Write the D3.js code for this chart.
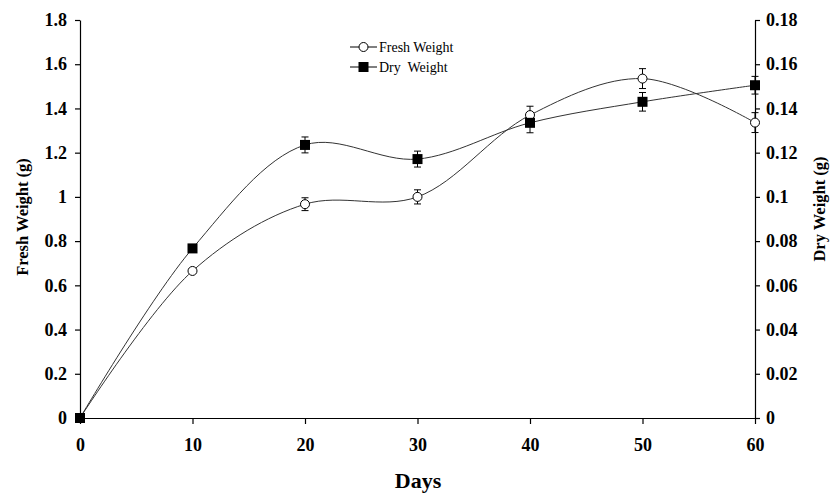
<!DOCTYPE html>
<html>
<head>
<meta charset="utf-8">
<script src="https://cdn.jsdelivr.net/npm/d3@7"></script>
<style>
  body { margin: 0; background: #fff; }
  svg { font-family: "Liberation Serif", "Times New Roman", serif; }
</style>
</head>
<body>
<figure id="chart" style="margin:0"></figure>
<script>
// values
const days = [0, 10, 20, 30, 40, 50, 60];
const freshWeight = [0, 0.665, 0.967, 1.0, 1.37, 1.535, 1.336];
const freshErr = [0, 0, 0.029, 0.032, 0.04, 0.045, 0.045];
const dryWeight = [0, 0.0767, 0.1235, 0.1171, 0.1335, 0.143, 0.1505];
const dryErr = [0, 0, 0.0036, 0.0036, 0.0045, 0.0042, 0.004];
const leftTicks = [0, 0.2, 0.4, 0.6, 0.8, 1, 1.2, 1.4, 1.6, 1.8];
const rightTicks = [0, 0.02, 0.04, 0.06, 0.08, 0.1, 0.12, 0.14, 0.16, 0.18];
const dayTicks = [0, 10, 20, 30, 40, 50, 60];

const width = 830, height = 493;
const margin = { top: 20, right: 75, bottom: 75, left: 80 };

const svg = d3.select("#chart").append("svg")
  .attr("width", width)
  .attr("height", height);

const x = d3.scaleLinear().domain([0, 60]).range([margin.left, width - margin.right]);
const yL = d3.scaleLinear().domain([0, 1.8]).range([height - margin.bottom, margin.top]);
const yR = d3.scaleLinear().domain([0, 0.18]).range([height - margin.bottom, margin.top]);

// axes
const gx = svg.append("g")
  .attr("transform", "translate(0," + (height - margin.bottom) + ")")
  .call(d3.axisBottom(x).tickValues(dayTicks).tickSize(6).tickSizeOuter(0).tickPadding(14));

const gl = svg.append("g")
  .attr("transform", "translate(" + margin.left + ",0)")
  .call(d3.axisLeft(yL).tickValues(leftTicks).tickSize(5).tickSizeOuter(0).tickPadding(8)
    .tickFormat(d => String(+d.toFixed(1))));

const gr = svg.append("g")
  .attr("transform", "translate(" + (width - margin.right) + ",0)")
  .call(d3.axisRight(yR).tickValues(rightTicks).tickSize(5).tickSizeOuter(0).tickPadding(6)
    .tickFormat(d => String(+d.toFixed(2))));

[gx, gl, gr].forEach(g => {
  g.selectAll("text")
    .style("font-family", "'Liberation Serif', serif")
    .style("font-weight", "bold")
    .style("font-size", "18px")
    .attr("fill", "#000");
  g.selectAll("line, path").attr("stroke", "#000").attr("stroke-width", 1.2);
});

// axis titles
svg.append("text")
  .attr("transform", "translate(28,217) rotate(-90)")
  .attr("text-anchor", "middle")
  .style("font-weight", "bold")
  .style("font-size", "16.5px")
  .text("Fresh Weight (g)");

svg.append("text")
  .attr("transform", "translate(825,209) rotate(-90)")
  .attr("text-anchor", "middle")
  .style("font-weight", "bold")
  .style("font-size", "16.5px")
  .text("Dry Weight (g)");

svg.append("text")
  .attr("x", 418)
  .attr("y", 488)
  .attr("text-anchor", "middle")
  .style("font-weight", "bold")
  .style("font-size", "22px")
  .text("Days");

// series
const freshData = days.map((d, i) => ({ d: d, v: freshWeight[i], e: freshErr[i] }));
const dryData = days.map((d, i) => ({ d: d, v: dryWeight[i], e: dryErr[i] }));

const curve = d3.curveCatmullRom.alpha(0.5);

svg.append("path")
  .datum(freshData)
  .attr("fill", "none")
  .attr("stroke", "#333")
  .attr("stroke-width", 1)
  .attr("d", d3.line().curve(curve).x(p => x(p.d)).y(p => yL(p.v)));

svg.append("path")
  .datum(dryData)
  .attr("fill", "none")
  .attr("stroke", "#333")
  .attr("stroke-width", 1)
  .attr("d", d3.line().curve(curve).x(p => x(p.d)).y(p => yR(p.v)));

function errorBars(data, y) {
  const g = svg.append("g").attr("stroke", "#000").attr("stroke-width", 1);
  data.filter(p => p.e > 0).forEach(p => {
    const cx = x(p.d);
    g.append("line").attr("x1", cx).attr("x2", cx).attr("y1", y(p.v - p.e)).attr("y2", y(p.v + p.e));
    g.append("line").attr("x1", cx - 3.5).attr("x2", cx + 3.5).attr("y1", y(p.v - p.e)).attr("y2", y(p.v - p.e));
    g.append("line").attr("x1", cx - 3.5).attr("x2", cx + 3.5).attr("y1", y(p.v + p.e)).attr("y2", y(p.v + p.e));
  });
}
errorBars(freshData, yL);
errorBars(dryData, yR);

svg.append("g")
  .selectAll("circle")
  .data(freshData)
  .enter()
  .append("circle")
  .attr("cx", p => x(p.d))
  .attr("cy", p => yL(p.v))
  .attr("r", 4.5)
  .attr("fill", "#fff")
  .attr("stroke", "#000")
  .attr("stroke-width", 1);

svg.append("g")
  .selectAll("rect")
  .data(dryData)
  .enter()
  .append("rect")
  .attr("x", p => x(p.d) - 5)
  .attr("y", p => yR(p.v) - 5)
  .attr("width", 10)
  .attr("height", 10)
  .attr("fill", "#000");

// legend
const legend = svg.append("g").attr("transform", "translate(350,47)");
legend.append("line").attr("x1", 0).attr("x2", 27).attr("y1", 0).attr("y2", 0).attr("stroke", "#000");
legend.append("circle").attr("cx", 13.5).attr("cy", 0).attr("r", 4.5).attr("fill", "#fff").attr("stroke", "#000");
legend.append("text").attr("x", 29).attr("y", 5).style("font-size", "14px").text("Fresh Weight");
legend.append("line").attr("x1", 0).attr("x2", 27).attr("y1", 20).attr("y2", 20).attr("stroke", "#000");
legend.append("rect").attr("x", 8.5).attr("y", 15).attr("width", 10).attr("height", 10).attr("fill", "#000");
legend.append("text").attr("x", 29).attr("y", 25).style("font-size", "14px").style("white-space", "pre").text("Dry  Weight");
</script>
</body>
</html>
